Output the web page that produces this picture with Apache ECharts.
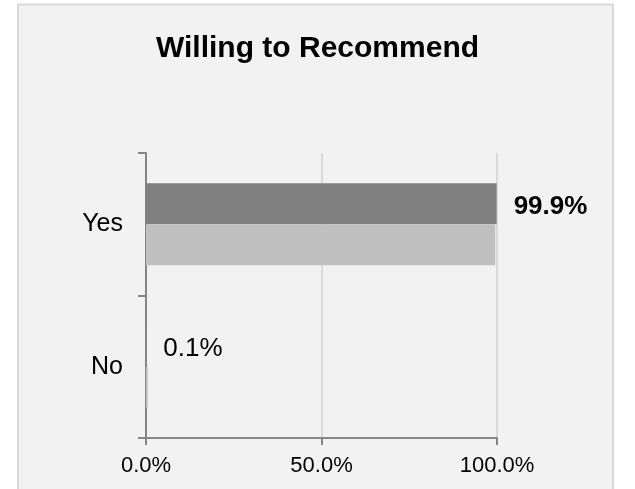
<!DOCTYPE html>
<html>
<head>
<meta charset="utf-8">
<script src="https://cdn.jsdelivr.net/npm/echarts@6/dist/echarts.min.js"></script>
<style>
  html, body { margin: 0; padding: 0; background: #ffffff; }
  #chart { width: 635px; height: 489px; }
</style>
</head>
<body>
<div id="chart"></div>
<script>
// Survey answers and shares (percent)
const categories = ['Yes', 'No'];
const primaryShare = [99.9, 0.1];   // dark bars, labelled
const secondaryShare = [99.5, 0.5]; // light bars
const xTickValues = [0, 50, 100];

const fontFamily = '"Liberation Sans", Arial, sans-serif';

const chart = echarts.init(document.getElementById('chart'), null, { renderer: 'canvas' });

chart.setOption({
  backgroundColor: '#ffffff',
  animation: false,
  textStyle: { fontFamily: fontFamily },
  graphic: [{
    type: 'rect',
    z: -100,
    shape: { x: 18, y: 4.5, width: 595, height: 520 },
    style: { fill: '#f2f2f2', stroke: '#d9d9d9', lineWidth: 2 }
  }],
  title: {
    text: 'Willing to Recommend',
    left: 'center',
    top: 29,
    textStyle: { fontFamily: fontFamily, fontSize: 30, fontWeight: 'bold', color: '#000000' }
  },
  grid: { left: 146, right: 138, top: 153, bottom: 51, containLabel: false },
  xAxis: {
    type: 'value',
    min: xTickValues[0],
    max: xTickValues[xTickValues.length - 1],
    interval: xTickValues[1] - xTickValues[0],
    axisLine: { show: true, lineStyle: { color: '#868686', width: 2 } },
    axisTick: { show: true, length: 7, lineStyle: { color: '#868686', width: 2 } },
    splitLine: { show: true, lineStyle: { color: '#d9d9d9', width: 2 } },
    axisLabel: {
      margin: 17,
      fontSize: 22,
      color: '#000000',
      fontFamily: fontFamily,
      formatter: v => v.toFixed(1) + '%'
    }
  },
  yAxis: {
    type: 'category',
    inverse: true,
    data: categories,
    axisLine: { show: true, lineStyle: { color: '#868686', width: 2 } },
    axisTick: { show: true, length: 8, inside: false, lineStyle: { color: '#868686', width: 2 } },
    axisLabel: { margin: 23, fontSize: 25, color: '#000000', fontFamily: fontFamily }
  },
  series: [
    {
      type: 'bar',
      barWidth: 41,
      barGap: '0%',
      itemStyle: { color: '#808080' },
      label: {
        show: true,
        position: 'right',
        distance: 17,
        offset: [0, 3],
        fontSize: 26,
        color: '#000000',
        fontFamily: fontFamily,
        formatter: p => p.value.toFixed(1) + '%'
      },
      data: primaryShare.map((v, i) => ({
        value: v,
        label: { fontWeight: i === 0 ? 'bold' : 'normal' }
      }))
    },
    {
      type: 'bar',
      barWidth: 41,
      barGap: '0%',
      itemStyle: { color: '#c0c0c0' },
      data: secondaryShare
    }
  ]
});
</script>
</body>
</html>
